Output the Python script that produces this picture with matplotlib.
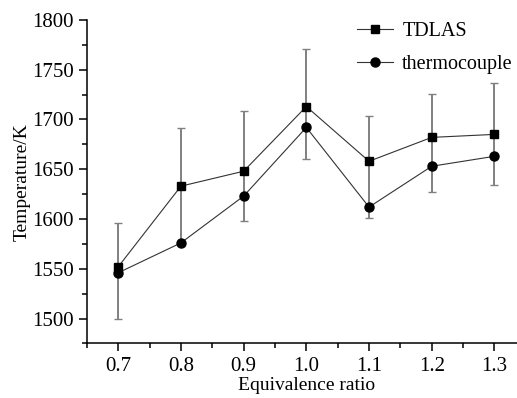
import matplotlib
matplotlib.use("Agg")
import matplotlib.pyplot as plt
from matplotlib.ticker import MultipleLocator

# Values
ratio = [0.7, 0.8, 0.9, 1.0, 1.1, 1.2, 1.3]
tdlas = [1552, 1633, 1648, 1713, 1658, 1682, 1685]
thermocouple = [1546, 1576, 1623, 1692, 1612, 1653, 1663]
err_low = [52, 57, 50, 53, 57, 55, 51]
err_high = [44, 58, 60, 58, 45, 44, 52]

plt.rcParams["font.family"] = ["Liberation Serif", "DejaVu Serif"]
plt.rcParams["font.size"] = 15

fig = plt.figure(figsize=(5.17, 3.98), dpi=100)
ax = fig.add_axes([0.168, 0.137, 0.849, 0.813])

# error bars (gray) on TDLAS, drawn under the markers
ax.errorbar(ratio, tdlas, yerr=[err_low, err_high], fmt="none",
            ecolor="#808080", elinewidth=1.4, capsize=3, capthick=1.0, zorder=1)
ax.plot(ratio, tdlas, color="#333333", linewidth=0.8, marker="s",
        markersize=6, markerfacecolor="black", markeredgecolor="black",
        label="TDLAS", zorder=3)
ax.plot(ratio, thermocouple, color="#333333", linewidth=0.8, marker="o",
        markersize=6.5, markerfacecolor="black", markeredgecolor="black",
        label="thermocouple", zorder=3)

ax.set_xlim(0.65, 1.35)
ax.set_ylim(1475, 1800)
ax.xaxis.set_minor_locator(MultipleLocator(0.05))
ax.yaxis.set_major_locator(MultipleLocator(50))
ax.yaxis.set_minor_locator(MultipleLocator(25))
ax.set_xticks(ratio)
ax.set_xticklabels([f"{r:.1f}" for r in ratio])

for side in ("top", "right"):
    ax.spines[side].set_visible(False)
for side in ("left", "bottom"):
    ax.spines[side].set_linewidth(1.1)
ax.tick_params(which="major", direction="out", length=6, width=1.1)
ax.tick_params(which="minor", direction="out", length=3.5, width=1.1)

ax.set_xlabel("Equivalence ratio", fontsize=14, labelpad=1)
ax.set_ylabel("Temperature/K", fontsize=14, labelpad=1)

ax.legend(loc="upper left", bbox_to_anchor=(357 / 517, 1 - 22 / 398),
          bbox_transform=fig.transFigure, frameon=False, borderpad=0,
          borderaxespad=0, handlelength=1.8, handletextpad=0.45,
          labelspacing=0.68, fontsize=14.5)

fig.savefig("out.png", dpi=100)
